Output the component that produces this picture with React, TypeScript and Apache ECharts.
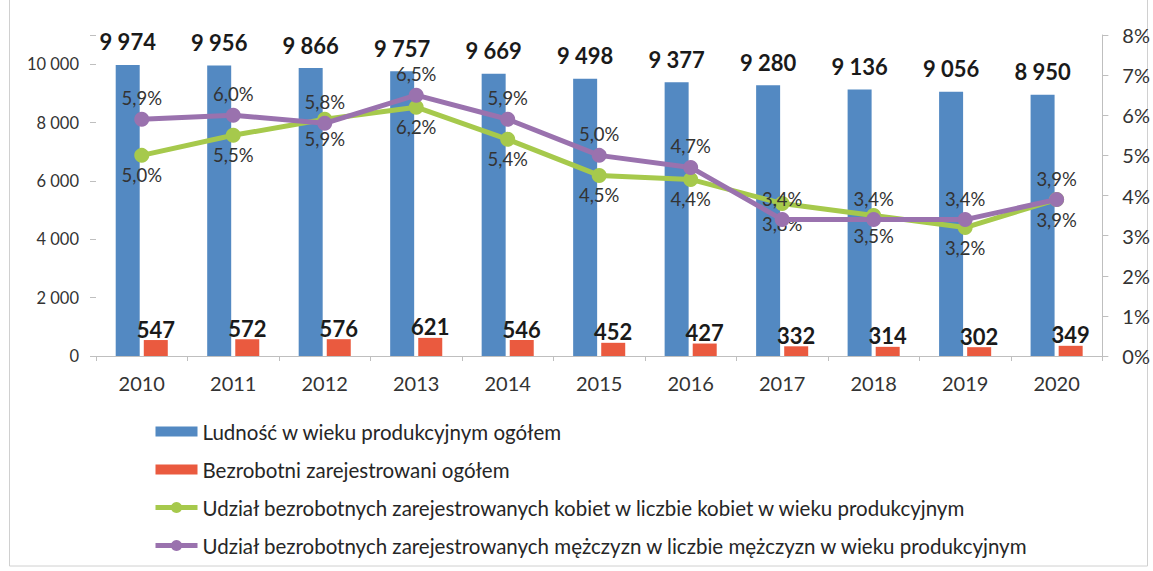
import React, { useEffect, useRef } from "react";
import * as echarts from "echarts";

const years = ["2010", "2011", "2012", "2013", "2014", "2015", "2016", "2017", "2018", "2019", "2020"];
const populationTotal = [9974, 9956, 9866, 9757, 9669, 9498, 9377, 9280, 9136, 9056, 8950];
const unemployedTotal = [547, 572, 576, 621, 546, 452, 427, 332, 314, 302, 349];
const womenShare = [5.0, 5.5, 5.9, 6.2, 5.4, 4.5, 4.4, 3.8, 3.5, 3.2, 3.9];
const menShare = [5.9, 6.0, 5.8, 6.5, 5.9, 5.0, 4.7, 3.4, 3.4, 3.4, 3.9];

const seriesNames = [
  "Ludność w wieku produkcyjnym ogółem",
  "Bezrobotni zarejestrowani ogółem",
  "Udział bezrobotnych zarejestrowanych kobiet w liczbie kobiet w wieku produkcyjnym",
  "Udział bezrobotnych zarejestrowanych mężczyzn w liczbie mężczyzn w wieku produkcyjnym",
];

const FONT = "Lato, 'Liberation Sans', sans-serif";
const BAR_ICON = "path://M0,0 L0.01,0 M0,2 L42,2 L42,12 L0,12 Z M0,14 L0.01,14";

function fmtThousands(v: number): string {
  const n = Math.round(v);
  if (n < 1000) return String(n);
  const th = Math.floor(n / 1000);
  const rest = String(n % 1000).padStart(3, "0");
  return th + "\u00a0" + rest;
}

function fmtPct(v: number): string {
  return v.toFixed(1).replace(".", ",") + "%";
}

export default function App() {
  const ref = useRef<HTMLDivElement>(null);
  useEffect(() => {
    if (!ref.current) return;
    const chart = echarts.init(ref.current, undefined, { renderer: "svg" });
    chart.setOption({
      animation: false,
      backgroundColor: "#ffffff",
      textStyle: { fontFamily: FONT },
      grid: { left: 96, right: 50, top: 35, bottom: 215, containLabel: false },
      legend: {
        orient: "vertical",
        left: 148,
        top: 416,
        height: 155,
        itemWidth: 42,
        itemHeight: 14,
        itemGap: 17,
        lineStyle: { width: "inherit" },
        textStyle: { fontSize: 20.5, color: "#262626", fontFamily: FONT },
        data: [
          { name: seriesNames[0], icon: BAR_ICON },
          { name: seriesNames[1], icon: BAR_ICON },
          { name: seriesNames[2] },
          { name: seriesNames[3] },
        ],
      },
      graphic: [
        {
          type: "rect",
          shape: { x: 9.5, y: -2, width: 1138, height: 568 },
          style: { fill: "none", stroke: "#d0d0d0", lineWidth: 1 },
          silent: true,
        },
      ],
      xAxis: {
        type: "category",
        data: years,
        boundaryGap: true,
        axisLine: { show: true, lineStyle: { color: "#bfbfbf", width: 1 } },
        axisTick: { show: true, alignWithLabel: false, length: 5, lineStyle: { color: "#bfbfbf" } },
        axisLabel: { fontSize: 20, color: "#333333", margin: 17, fontFamily: FONT },
        splitLine: { show: false },
      },
      yAxis: [
        {
          type: "value",
          min: 0,
          max: 11000,
          interval: 2000,
          axisLine: { show: false },
          axisTick: { show: true, length: 6, lineStyle: { color: "#bfbfbf" } },
          splitLine: { show: false },
          axisLabel: {
            fontSize: 16.5,
            color: "#333333",
            margin: 17,
            fontFamily: FONT,
            formatter: (v: number) => (v > 10000 ? "" : fmtThousands(v)),
          },
        },
        {
          type: "value",
          min: 0,
          max: 8,
          interval: 1,
          position: "right",
          axisLine: { show: true, lineStyle: { color: "#bfbfbf", width: 1 } },
          axisTick: { show: true, length: 6, lineStyle: { color: "#bfbfbf" } },
          splitLine: { show: false },
          axisLabel: {
            fontSize: 20,
            color: "#333333",
            margin: 20,
            fontFamily: FONT,
            formatter: (v: number) => v + "%",
          },
        },
      ],
      series: [
        {
          name: seriesNames[0],
          type: "bar",
          data: populationTotal,
          barWidth: 24,
          barGap: "17%",
          itemStyle: { color: "#5389c2" },
          label: {
            show: true,
            position: "top",
            distance: 12,
            fontSize: 22,
            fontWeight: "bold",
            color: "#1a1a1a",
            fontFamily: FONT,
            formatter: (p: any) => fmtThousands(p.value),
          },
        },
        {
          name: seriesNames[1],
          type: "bar",
          data: unemployedTotal,
          barWidth: 24,
          barGap: "17%",
          itemStyle: { color: "#ea5a3f" },
          label: {
            show: true,
            position: "top",
            distance: 0,
            fontSize: 22,
            fontWeight: "bold",
            color: "#1a1a1a",
            fontFamily: FONT,
            formatter: (p: any) => fmtThousands(p.value),
          },
        },
        {
          name: seriesNames[2],
          type: "line",
          yAxisIndex: 1,
          data: womenShare,
          symbol: "circle",
          symbolSize: 15,
          lineStyle: { color: "#a6c94c", width: 5 },
          itemStyle: { color: "#a6c94c" },
          label: {
            show: true,
            position: "bottom",
            distance: 3,
            fontSize: 18.5,
            color: "#333333",
            fontFamily: FONT,
            formatter: (p: any) => fmtPct(p.value),
          },
          z: 3,
        },
        {
          name: seriesNames[3],
          type: "line",
          yAxisIndex: 1,
          data: menShare,
          symbol: "circle",
          symbolSize: 15,
          lineStyle: { color: "#9a72ae", width: 5 },
          itemStyle: { color: "#9a72ae" },
          label: {
            show: true,
            position: "top",
            distance: 4,
            fontSize: 18.5,
            color: "#333333",
            fontFamily: FONT,
            formatter: (p: any) => fmtPct(p.value),
          },
          z: 4,
        },
      ],
    });
    return () => chart.dispose();
  }, []);
  return (
    <div
      ref={ref}
      style={{ position: "fixed", left: 0, top: 0, width: 1153, height: 571, background: "#fff" }}
    />
  );
}
